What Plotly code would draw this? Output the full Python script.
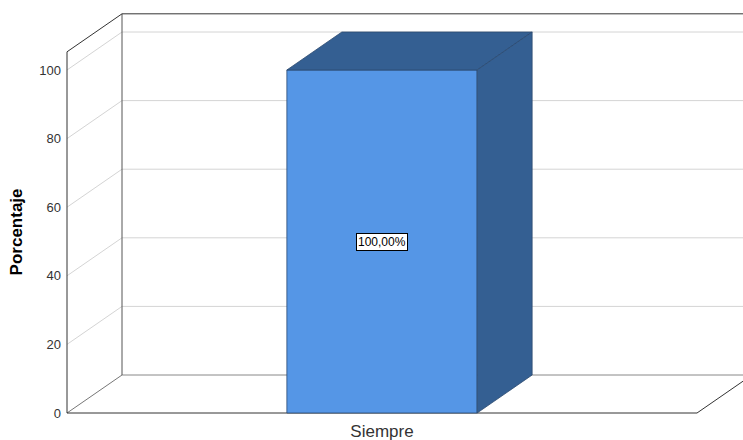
import plotly.graph_objects as go

# ---- data ----
categories = ["Siempre"]
percentages = [100.0]
labels = ["100,00%"]
y_ticks = [0, 20, 40, 60, 80, 100]
y_title = "Porcentaje"

# ---- geometry/style constants ----
YMAX = 105.3          # top of the axis frame
DX = 55 / 630         # depth offset in category units
DY = 38 / 3.43        # depth offset in percent units
BAR_W = 0.302
FRONT = "#5596e6"
SHADE = "#345f92"
EDGE = "#2c4a70"

fig = go.Figure()

xpos = list(range(len(categories)))
x0, x1 = -0.5, len(categories) - 0.5

shapes = []
def line(xa, ya, xb, yb, color, width=1):
    shapes.append(dict(type="line", xref="x", yref="y", x0=xa, y0=ya, x1=xb, y1=yb,
                       line=dict(color=color, width=width), layer="below"))

# back wall gridlines and left wall diagonals
for v in y_ticks[1:]:
    line(x0 + DX, v + DY, x1 + DX, v + DY, "#d4d4d4")
    line(x0, v, x0 + DX, v + DY, "#d4d4d4")
# floor
line(x0, 0, x0 + DX, DY, "#777777")
line(x0 + DX, DY, x1 + DX, DY, "#888888")
line(x0, 0, x1, 0, "#333333")
line(x1, 0, x1 + DX, DY, "#333333")
# back wall left edge and top
line(x0 + DX, DY, x0 + DX, YMAX + DY, "#555555")
line(x0 + DX, YMAX + DY, x1 + DX, YMAX + DY, "#333333")
# front axis and top-left diagonal
line(x0, 0, x0, YMAX, "#333333")
line(x0, YMAX, x0 + DX, YMAX + DY, "#333333")

# front faces of bars
fig.add_trace(go.Bar(x=xpos, y=percentages, width=BAR_W,
                     marker=dict(color=FRONT, line=dict(color=EDGE, width=0.8)),
                     hoverinfo="skip", showlegend=False))

# top and side faces
for xc, v in zip(xpos, percentages):
    l, r = xc - BAR_W / 2, xc + BAR_W / 2
    fig.add_trace(go.Scatter(
        x=[l, l + DX, r + DX, r, l], y=[v, v + DY, v + DY, v, v],
        fill="toself", fillcolor=SHADE, mode="lines",
        line=dict(color=EDGE, width=0.8), hoverinfo="skip", showlegend=False))
    fig.add_trace(go.Scatter(
        x=[r, r + DX, r + DX, r, r], y=[v, v + DY, DY, 0, v],
        fill="toself", fillcolor=SHADE, mode="lines",
        line=dict(color=EDGE, width=0.8), hoverinfo="skip", showlegend=False))

annotations = []
for xc, v, t in zip(xpos, percentages, labels):
    annotations.append(dict(x=xc, y=v / 2, xref="x", yref="y", text=t, showarrow=False,
                            font=dict(family="Arial", size=12, color="#000000"),
                            bgcolor="#ffffff", bordercolor="#000000", borderwidth=1,
                            borderpad=1))

L, B = 65, 24
AXIS_PX = 67          # pixel x of the front axis
FLOOR_PX = 413        # pixel y of value 0
px_per_x = 630
px_per_y = 3.43
xr0 = x0 - (AXIS_PX - L) / px_per_x
xr1 = xr0 + (743 - L) / px_per_x
yr0 = -(416 - FLOOR_PX) / px_per_y
yr1 = yr0 + 416 / px_per_y

# y-axis title centred on the front axis span
annotations.append(dict(xref="paper", yref="y", x=0, y=YMAX / 2, xshift=-49,
                        text="<b>" + y_title + "</b>", textangle=-90, showarrow=False,
                        xanchor="center", yanchor="middle",
                        font=dict(family="Arial", size=17, color="#000000")))

fig.update_layout(
    width=743, height=440,
    margin=dict(l=L, r=0, t=0, b=B),
    paper_bgcolor="#ffffff", plot_bgcolor="#ffffff",
    shapes=shapes, annotations=annotations,
    xaxis=dict(range=[xr0, xr1], tickvals=xpos, ticktext=categories,
               showgrid=False, zeroline=False, showline=False, ticks="",
               ticklabelstandoff=3,
               tickfont=dict(family="Arial", size=17, color="#333333")),
    yaxis=dict(range=[yr0, yr1], tickvals=y_ticks, ticktext=[str(v) for v in y_ticks],
               showgrid=False, zeroline=False, showline=False, ticks="",
               ticklabelstandoff=3,
               tickfont=dict(family="Arial", size=13, color="#333333")),
)

fig.write_html("out.html")
